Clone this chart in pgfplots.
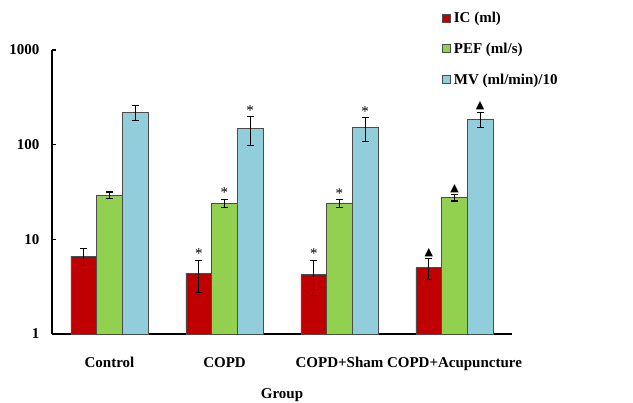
\documentclass[border=0pt]{standalone}
\usepackage{pgfplots}
\pgfplotsset{compat=1.18}
\usepackage{fontspec}
\setmainfont{Liberation Serif}
\newfontfamily\dejavu{DejaVu Sans}
\definecolor{icred}{HTML}{C00000}
\definecolor{pefgreen}{HTML}{92D050}
\definecolor{mvblue}{HTML}{92CDDC}
\protected\def\tri{\raisebox{2pt}{\dejavu\fontsize{11}{11}\selectfont ▲}}
\protected\def\ast{{\fontsize{15}{15}\selectfont *}}
\pgfplotsset{
  mybar/.style={ybar, bar width=0.2235, bar shift=0, draw=black!70, line width=0.6pt,
    error bars/.cd, y dir=both, y explicit,
    error bar style={black, line width=1.1pt},
    error mark options={rotate=90, black, mark size=3.5pt, line width=1.1pt},
    /pgfplots/.cd,
    legend image code/.code={\draw[##1, draw=black!70, line width=0.6pt] (0pt,-4pt) rectangle (8pt,4pt);}},
  mymark/.style={forget plot, draw=none, mark=none, nodes near coords, point meta=explicit symbolic,
    nodes near coords style={anchor=south, inner sep=1pt}},
}
\begin{document}
\begin{tikzpicture}[x=1pt,y=1pt]
\path[use as bounding box] (-52,-69) rectangle (581,334);
\begin{axis}[
  at={(0,0)}, anchor=south west,
  scale only axis, width=460pt, height=284pt,
  ymode=log, ymin=1, ymax=1000,
  xmin=-0.5, xmax=3.5,
  axis x line*=bottom, axis y line*=left,
  axis line style={-, line width=1.6pt},
  tick align=inside,
  major tick length=4pt,
  tick style={black, line width=1.2pt},
  yminorticks=false,
  ytick={1,10,100,1000}, yticklabels={1,10,100,1000},
  xtick={0,1,2,3}, xticklabels={Control,COPD,COPD+Sham,COPD+Acupuncture},
  xtick style={draw=none},
  extra x ticks={0.5,1.5,2.5,3.5}, extra x tick labels={},
  extra x tick style={tick style={black, line width=1.2pt}, major tick length=4pt},
  ticklabel style={font=\bfseries\fontsize{15}{18}\selectfont},
  xticklabel style={yshift=-20pt},
  yticklabel style={xshift=-9pt},
  xlabel={Group},
  xlabel style={font=\bfseries\fontsize{15}{18}\selectfont, yshift=-11pt},
  legend style={at={(rel axis cs:0.848,1.142)}, anchor=north west, draw=none, fill=none,
    font=\bfseries\fontsize{15}{18}\selectfont, row sep=15pt, inner sep=0pt,
    nodes={inner xsep=3pt}},
  legend cell align=left,
  clip=false,
]
\addplot[mybar, fill=icred] coordinates {
  (-0.2235,6.61) += (0,1.34) -= (0,1.30)
  (0.7765,4.38) += (0,1.66) -= (0,1.62)
  (1.7765,4.27) += (0,1.77) -= (0,1.73)
  (2.7765,5.01) += (0,1.23) -= (0,1.23)
};
\addlegendentry{IC (ml)}
\addplot[mybar, fill=pefgreen] coordinates {
  (0,29.2) += (0,2.4) -= (0,2.4)
  (1,24.0) += (0,2.6) -= (0,2.2)
  (2,24.2) += (0,2.1) -= (0,2.3)
  (3,27.5) += (0,2.2) -= (0,2.1)
};
\addlegendentry{PEF (ml/s)}
\addplot[mybar, fill=mvblue] coordinates {
  (0.2235,221) += (0,39) -= (0,42)
  (1.2235,148.6) += (0,50) -= (0,50)
  (2.2235,152) += (0,43) -= (0,43)
  (3.2235,186) += (0,35) -= (0,35)
};
\addlegendentry{MV (ml/min)/10}
\addplot[mymark] coordinates {
  (0.7765,6.04) [\ast] (1.7765,6.04) [\ast]
  (1,26.6) [\ast] (2,26.3) [\ast]
  (1.2235,198.6) [\ast] (2.2235,195) [\ast]
  (2.7765,6.24) [\tri] (3,29.7) [\tri] (3.2235,221) [\tri]
};
\end{axis}
\end{tikzpicture}
\end{document}
